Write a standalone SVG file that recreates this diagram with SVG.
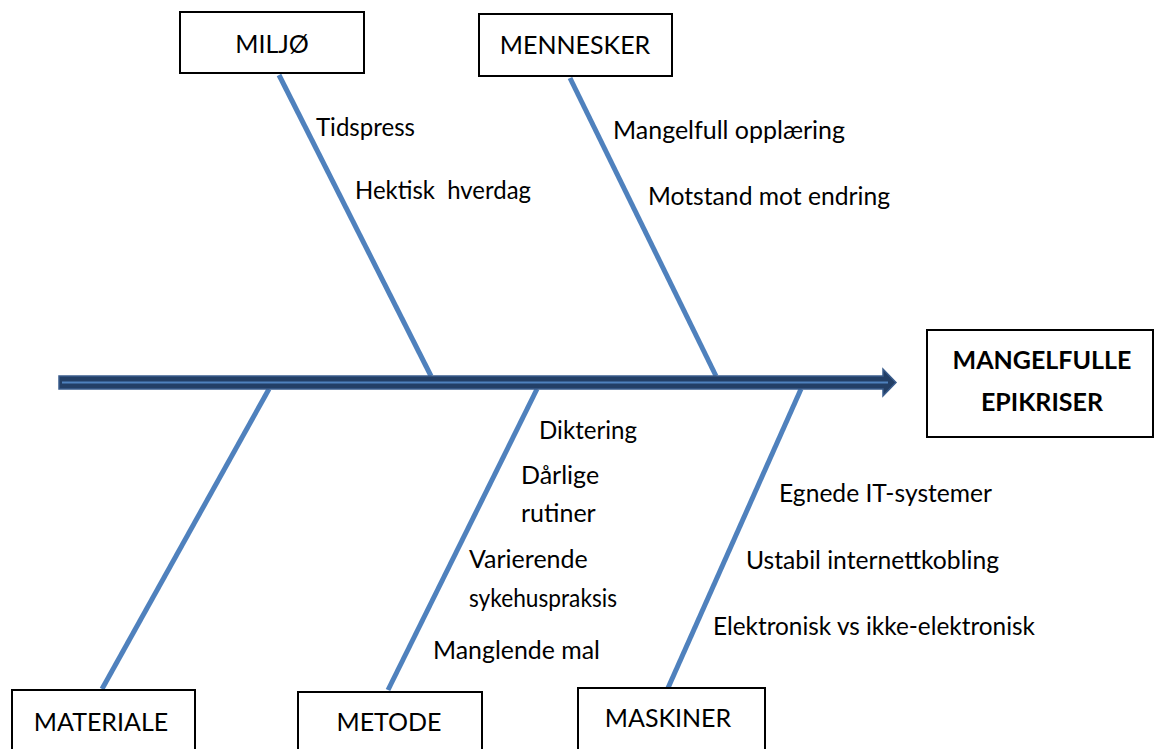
<svg xmlns="http://www.w3.org/2000/svg" width="1155" height="749" viewBox="0 0 1155 749">
<style>
.box{fill:#fff;stroke:#000;stroke-width:2}
.lbl{font-family:Lato,"Liberation Sans",sans-serif;font-size:25px;fill:#000}
.c{text-anchor:middle}
.b{font-weight:bold}
.bone{stroke:#4F81BD;stroke-width:5;stroke-linecap:butt}
</style>
<rect width="1155" height="749" fill="#fff"/>
<g id="connectors">
<line class="bone" x1="279" y1="75" x2="431" y2="376"/>
<line class="bone" x1="570" y1="78" x2="716" y2="376"/>
<line class="bone" x1="269" y1="389" x2="102" y2="689"/>
<line class="bone" x1="537" y1="389" x2="388" y2="690"/>
<line class="bone" x1="801" y1="389" x2="668" y2="688"/>
<g id="spine">
<polygon points="59,376 883,376 883,369 896,382.5 883,396 883,389 59,389" fill="#233F66" stroke="#3A5C8C" stroke-width="1.5"/>
<line x1="62" y1="382.5" x2="888" y2="382.5" stroke="#4F81BD" stroke-width="2"/>
</g>
</g>
<g id="miljo">
<rect class="box" x="180" y="12" width="184" height="61"/>
<text class="lbl c" x="272" y="53">MILJØ</text>
<text class="lbl" x="316" y="136" textLength="99" lengthAdjust="spacingAndGlyphs">Tidspress</text>
<text class="lbl" x="355" y="199" xml:space="preserve" textLength="176" lengthAdjust="spacingAndGlyphs">Hektisk  hverdag</text>
</g>
<g id="mennesker">
<rect class="box" x="479" y="14" width="193" height="62"/>
<text class="lbl c" x="575" y="54">MENNESKER</text>
<text class="lbl" x="613" y="139" textLength="232" lengthAdjust="spacingAndGlyphs">Mangelfull opplæring</text>
<text class="lbl" x="648" y="205" textLength="242" lengthAdjust="spacingAndGlyphs">Motstand mot endring</text>
</g>
<g id="effect">
<rect class="box" x="927" y="330" width="226" height="107"/>
<text class="lbl c b" x="1042" y="369">MANGELFULLE</text>
<text class="lbl c b" x="1042" y="411">EPIKRISER</text>
</g>
<g id="materiale">
<rect class="box" x="12" y="690" width="183" height="70"/>
<text class="lbl c" x="101" y="731">MATERIALE</text>
</g>
<g id="metode">
<rect class="box" x="298" y="692" width="184" height="70"/>
<text class="lbl c" x="389" y="731">METODE</text>
<text class="lbl" x="539" y="439" textLength="98" lengthAdjust="spacingAndGlyphs">Diktering</text>
<text class="lbl" x="521" y="484">Dårlige</text>
<text class="lbl" x="521" y="522">rutiner</text>
<text class="lbl" x="469" y="568">Varierende</text>
<text class="lbl" x="469" y="607" textLength="148" lengthAdjust="spacingAndGlyphs">sykehuspraksis</text>
<text class="lbl" x="433" y="659" textLength="167" lengthAdjust="spacingAndGlyphs">Manglende mal</text>
</g>
<g id="maskiner">
<rect class="box" x="578" y="688" width="187" height="70"/>
<text class="lbl c" x="668" y="727">MASKINER</text>
<text class="lbl" x="779" y="502" textLength="213" lengthAdjust="spacingAndGlyphs">Egnede IT-systemer</text>
<text class="lbl" x="746" y="569" textLength="253" lengthAdjust="spacingAndGlyphs">Ustabil internettkobling</text>
<text class="lbl" x="713" y="635" textLength="322" lengthAdjust="spacingAndGlyphs">Elektronisk vs ikke-elektronisk</text>
</g>
</svg>
